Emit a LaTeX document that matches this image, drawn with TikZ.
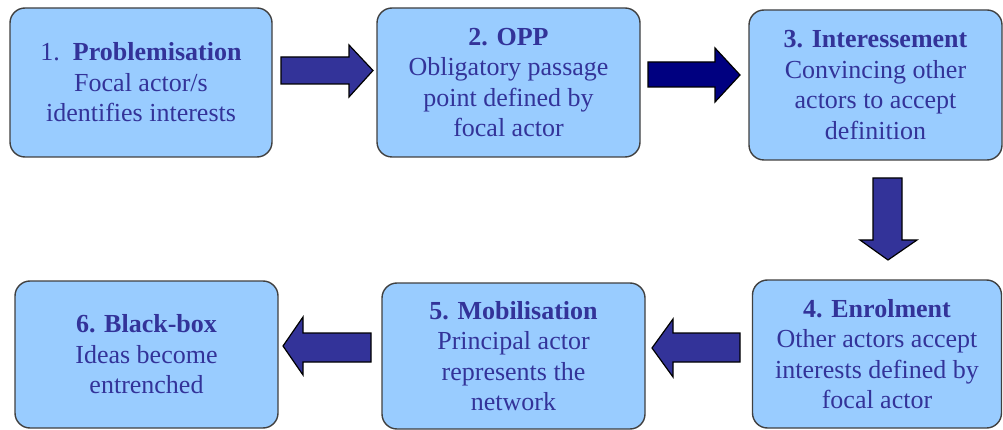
\documentclass[tikz,border=0pt]{standalone}
\usepackage{fontspec}
\setmainfont{Liberation Serif}
\definecolor{boxfill}{RGB}{153,204,255}
\definecolor{boxline}{RGB}{64,64,64}
\definecolor{txtblue}{RGB}{51,51,153}
\definecolor{arrowblue}{RGB}{51,51,153}
\definecolor{arrownavy}{RGB}{0,0,128}
\tikzset{
  stagebox/.style={draw=boxline, line width=1.4pt, fill=boxfill, rounded corners=15pt,
    align=center, text=txtblue, font=\fontsize{26}{30.5}\selectfont, inner sep=0pt},
  fatarrow/.style={draw=black, line width=1.2pt, fill=arrowblue, line join=miter},
}
\begin{document}
\begin{tikzpicture}[x=1pt,y=-1pt]
\useasboundingbox (0,0) rectangle (1003,430);
\node[stagebox, minimum width=262pt, minimum height=149pt] (b1) at (141,82.5)
  {1.\ \ \textbf{Problemisation}\\Focal actor/s\\identifies interests};
\node[stagebox, minimum width=263pt, minimum height=149pt] (b2) at (508.5,82.5)
  {\textbf{2. OPP}\\Obligatory passage\\point defined by\\focal actor};
\node[stagebox, minimum width=253pt, minimum height=150pt] (b3) at (875.5,85)
  {\textbf{3. Interessement}\\Convincing other\\actors to accept\\definition};
\node[stagebox, minimum width=249pt, minimum height=148pt] (b4) at (877,354)
  {\textbf{4. Enrolment}\\Other actors accept\\interests defined by\\focal actor};
\node[stagebox, minimum width=263pt, minimum height=146pt] (b5) at (513.5,356)
  {\textbf{5. Mobilisation}\\Principal actor\\represents the\\network};
\node[stagebox, minimum width=263pt, minimum height=147pt] (b6) at (146.5,354.5)
  {\textbf{6. Black-box}\\Ideas become\\entrenched};
% arrows
\filldraw[fatarrow] (281,57) -- (349,57) -- (349,45) -- (373,70.5) -- (349,97) -- (349,84) -- (281,84) -- cycle;
\filldraw[fatarrow, fill=arrownavy] (648,62) -- (715,62) -- (715,48) -- (740,75) -- (715,102) -- (715,87) -- (648,87) -- cycle;
\filldraw[fatarrow] (873,178) -- (902,178) -- (902,240) -- (917,240) -- (888,260) -- (860,240) -- (873,240) -- cycle;
\filldraw[fatarrow] (740,333) -- (673,333) -- (673,319) -- (652,348) -- (673,377) -- (673,362) -- (740,362) -- cycle;
\filldraw[fatarrow] (371,333) -- (303,333) -- (303,317) -- (283,346) -- (303,375) -- (303,362) -- (371,362) -- cycle;
\end{tikzpicture}
\end{document}
